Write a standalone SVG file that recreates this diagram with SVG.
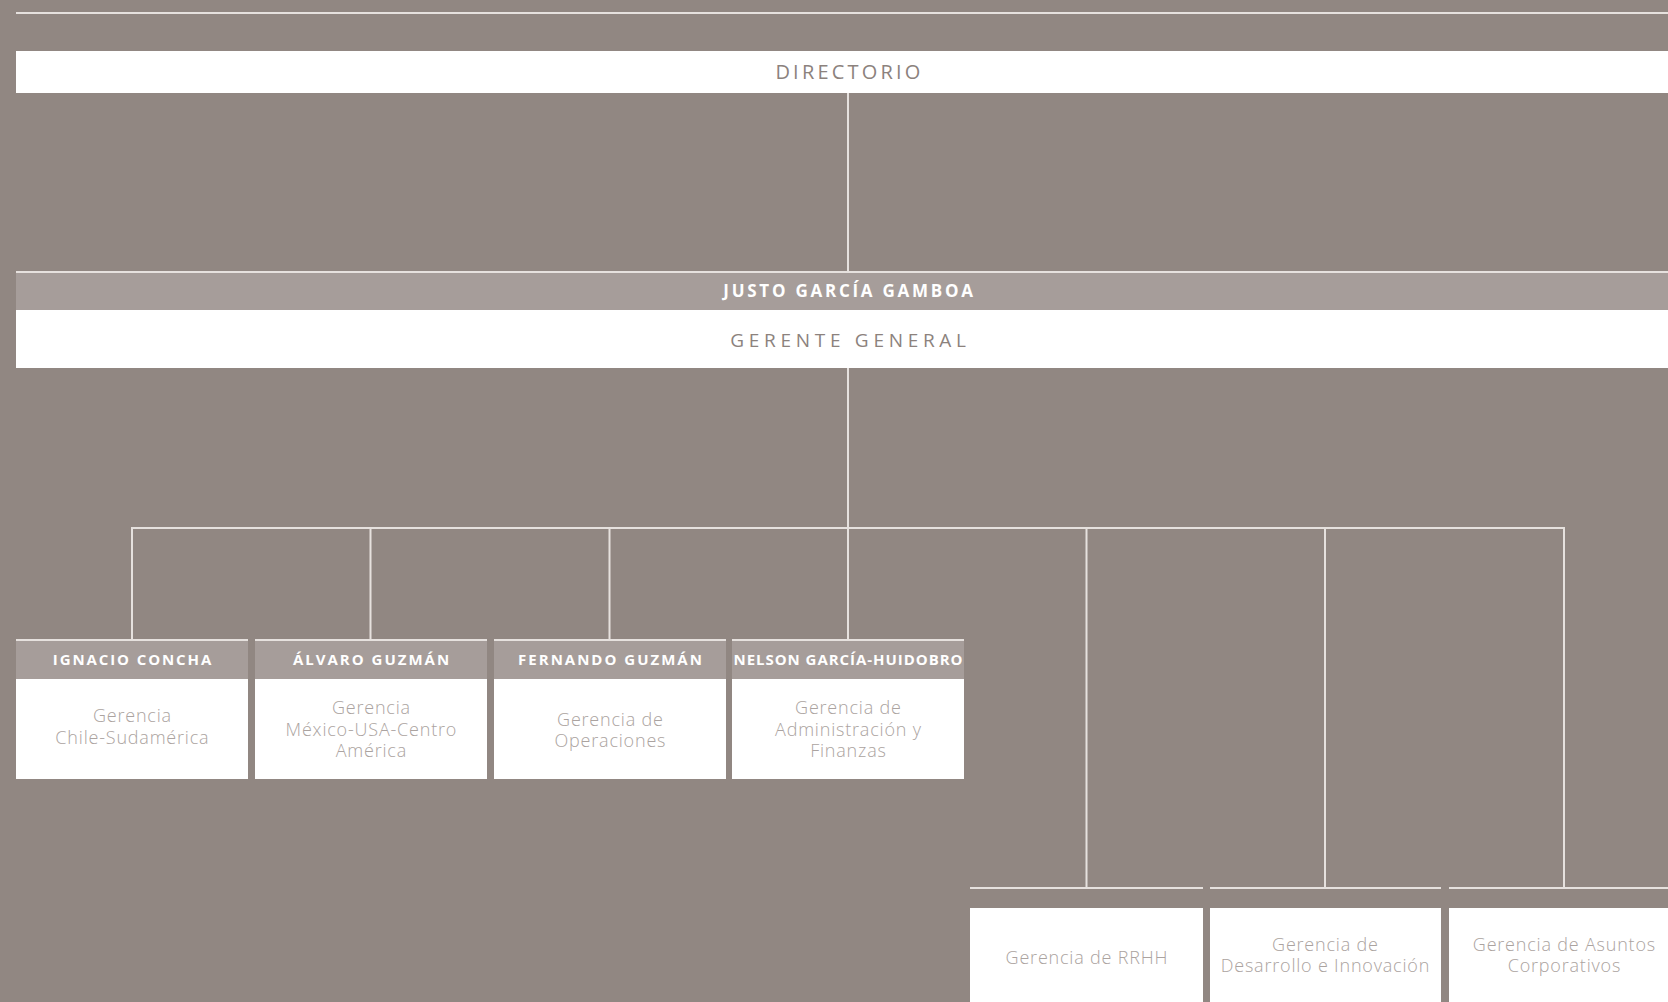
<svg xmlns="http://www.w3.org/2000/svg" width="1668" height="1002" viewBox="0 0 1668 1002">
<style>
.bg{fill:#918782}
.white{fill:#ffffff}
.hdr{fill:#a69d9a}
.ln{stroke:#e6e1de;stroke-width:2;fill:none}
.title{font-family:"Open Sans","Liberation Sans",sans-serif;fill:#8c827d;text-anchor:middle}
.name{font-family:"Open Sans","Liberation Sans",sans-serif;font-weight:700;fill:#ffffff;text-anchor:middle}
.sub{font-family:"Open Sans","Liberation Sans",sans-serif;font-weight:300;font-size:18px;letter-spacing:0.8px;fill:#aba3a0;text-anchor:middle}
</style>
<rect class="bg" x="0" y="0" width="1668" height="1002"/>
<line class="ln" x1="16" y1="13" x2="1668" y2="13"/>

<g id="connectors">
<line class="ln" x1="848" y1="93" x2="848" y2="272"/>
<line class="ln" x1="848" y1="368" x2="848" y2="528"/>
<line class="ln" x1="131" y1="528" x2="1565" y2="528"/>
<line class="ln" x1="132" y1="528" x2="132" y2="640"/>
<line class="ln" x1="370.5" y1="528" x2="370.5" y2="640"/>
<line class="ln" x1="609.5" y1="528" x2="609.5" y2="640"/>
<line class="ln" x1="848" y1="528" x2="848" y2="640"/>
<line class="ln" x1="1086.5" y1="528" x2="1086.5" y2="888"/>
<line class="ln" x1="1325" y1="528" x2="1325" y2="888"/>
<line class="ln" x1="1564" y1="528" x2="1564" y2="888"/>
</g>

<g id="directorio">
<rect class="white" x="16" y="51" width="1652" height="42"/>
<text class="title" x="849.5" y="79" font-size="20" letter-spacing="3.2">DIRECTORIO</text>
</g>

<g id="gerente-general">
<line class="ln" x1="16" y1="272" x2="1668" y2="272"/>
<rect class="hdr" x="16" y="273" width="1652" height="37"/>
<text class="name" x="849.5" y="297" font-size="17" letter-spacing="2.75">JUSTO GARCÍA GAMBOA</text>
<rect class="white" x="16" y="310" width="1652" height="58"/>
<text class="title" x="850.5" y="347" font-size="19" letter-spacing="4.7">GERENTE GENERAL</text>
</g>

<g id="ignacio-concha">
<line class="ln" x1="16" y1="640" x2="248" y2="640"/>
<rect class="hdr" x="16" y="641" width="232" height="38"/>
<text class="name" x="133" y="665" font-size="15" letter-spacing="1.9">IGNACIO CONCHA</text>
<rect class="white" x="16" y="679" width="232" height="100"/>
<text class="sub" x="132.4" y="722">Gerencia</text>
<text class="sub" x="132.4" y="744">Chile-Sudamérica</text>
</g>

<g id="alvaro-guzman">
<line class="ln" x1="255" y1="640" x2="487" y2="640"/>
<rect class="hdr" x="255" y="641" width="232" height="38"/>
<text class="name" x="372" y="665" font-size="15" letter-spacing="2">ÁLVARO GUZMÁN</text>
<rect class="white" x="255" y="679" width="232" height="100"/>
<text class="sub" x="371.4" y="714">Gerencia</text>
<text class="sub" x="371.4" y="736">México-USA-Centro</text>
<text class="sub" x="371.4" y="757">América</text>
</g>

<g id="fernando-guzman">
<line class="ln" x1="494" y1="640" x2="726" y2="640"/>
<rect class="hdr" x="494" y="641" width="232" height="38"/>
<text class="name" x="611" y="665" font-size="15" letter-spacing="2">FERNANDO GUZMÁN</text>
<rect class="white" x="494" y="679" width="232" height="100"/>
<text class="sub" x="610.4" y="726">Gerencia de</text>
<text class="sub" x="610.4" y="747">Operaciones</text>
</g>

<g id="nelson-garcia-huidobro">
<line class="ln" x1="732" y1="640" x2="964" y2="640"/>
<rect class="hdr" x="732" y="641" width="232" height="38"/>
<text class="name" x="848.5" y="665" font-size="15" letter-spacing="0.95">NELSON GARCÍA-HUIDOBRO</text>
<rect class="white" x="732" y="679" width="232" height="100"/>
<text class="sub" x="848.4" y="714">Gerencia de</text>
<text class="sub" x="848.4" y="736">Administración y</text>
<text class="sub" x="848.4" y="757">Finanzas</text>
</g>

<g id="gerencia-rrhh">
<line class="ln" x1="970" y1="888" x2="1203" y2="888"/>
<rect class="white" x="970" y="908" width="233" height="94"/>
<text class="sub" x="1086.9" y="964">Gerencia de RRHH</text>
</g>

<g id="gerencia-desarrollo">
<line class="ln" x1="1210" y1="888" x2="1441" y2="888"/>
<rect class="white" x="1210" y="908" width="231" height="94"/>
<text class="sub" x="1325.4" y="951">Gerencia de</text>
<text class="sub" x="1325.4" y="972">Desarrollo e Innovación</text>
</g>

<g id="gerencia-asuntos">
<line class="ln" x1="1449" y1="888" x2="1668" y2="888"/>
<rect class="white" x="1449" y="908" width="232" height="94"/>
<text class="sub" x="1564.4" y="951">Gerencia de Asuntos</text>
<text class="sub" x="1564.4" y="972">Corporativos</text>
</g>
</svg>
